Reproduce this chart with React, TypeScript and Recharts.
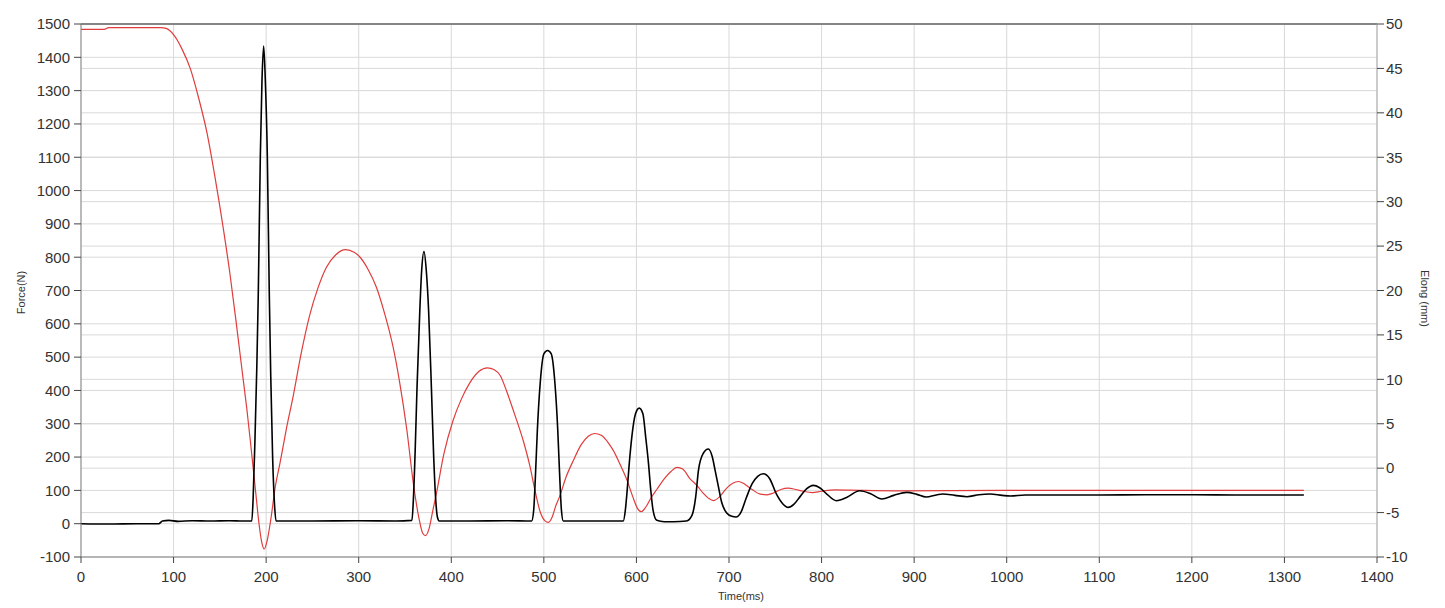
import { LineChart, Line, XAxis, YAxis, CartesianGrid, ReferenceLine } from 'recharts';

// time axis (ms) and tick sets
const timeTicks = [0, 100, 200, 300, 400, 500, 600, 700, 800, 900, 1000, 1100, 1200, 1300, 1400];
const forceTicks = [-100, 0, 100, 200, 300, 400, 500, 600, 700, 800, 900, 1000, 1100, 1200, 1300, 1400, 1500];
const elongTicks = [-10, -5, 0, 5, 10, 15, 20, 25, 30, 35, 40, 45, 50];

// Force (N), black trace
const forceTime = [
    0, 30, 60, 84, 88, 95, 105, 120, 140, 160, 175, 184.5,
    186, 188, 190, 191.5, 193.7, 195.5, 197.3, 199, 201.3, 203.4, 205, 207, 209, 210.7,
    250, 300, 340, 357.5, 359, 361, 363, 366, 368, 370.5, 373, 375.5, 378.5, 381, 383, 385, 387,
    420, 460, 486.8, 489, 491, 493, 496, 500, 504, 508, 512, 515, 517, 519, 521,
    550, 585.8, 588, 590, 592.3, 595, 599, 603, 607, 610, 613, 615.5, 618, 622, 630, 640,
    654, 660, 664, 667, 672, 677.7, 682, 685, 688.5, 692, 697.5, 703, 707.6,
    713, 719, 725, 731, 737, 744, 751, 758, 764, 770, 777, 784, 791, 798, 806, 816,
    828, 841, 853, 865, 878, 892, 903, 913, 925, 931, 944, 957, 970, 982, 995, 1004,
    1020, 1060, 1100, 1150, 1200, 1250, 1321,
];
const forceN = [
    0, -1, 0, 0, 8, 10, 7, 9, 8, 9, 8, 8,
    80, 260, 480, 688, 1100, 1330, 1434, 1340, 1100, 688, 440, 200, 60, 8,
    8, 9, 8, 10, 70, 220, 410, 640, 760, 817, 760, 640, 410, 200, 80, 20, 8,
    8, 9, 8, 40, 150, 282, 420, 510, 520, 510, 420, 282, 150, 40, 8,
    8, 8, 40, 100, 182, 260, 330, 347, 330, 260, 182, 100, 40, 10, 6, 6,
    8, 25, 80, 160, 210, 224, 200, 160, 112, 65, 32, 22, 20,
    35, 80, 120, 142, 150, 135, 90, 60, 49, 58, 82, 105, 115, 108, 88, 69,
    80, 99, 90, 74, 85, 94, 88, 80, 87, 89, 85, 81, 87, 89, 85, 83,
    86, 86, 86, 87, 87, 86, 86,
];

// Elong (mm), red trace
const elongTime = [
    0, 25, 30, 86, 92, 100, 109, 118, 127, 136, 145, 154, 161, 168, 174, 179, 183, 186, 189, 192, 195, 198,
    201, 205, 210, 215, 222, 229, 238, 247, 256, 265, 275, 286, 295, 301, 310, 319, 328, 337, 344, 352,
    359, 365, 369, 372, 376, 380, 384, 392, 402, 411, 420, 430, 439, 446, 453, 460, 468, 478, 485, 490,
    496, 501, 505, 509, 513, 517, 524, 532, 540, 548, 555, 562, 570, 575, 582, 590, 596, 601, 605, 610,
    616, 622, 630, 637, 644, 650, 658, 665, 672, 678, 683, 690, 697, 704, 710, 717, 725, 733, 741, 748,
    756, 764, 772, 780, 790, 800, 815, 840, 880, 1000, 1321,
];
const elongMm = [
    49.4, 49.4, 49.6, 49.6, 49.5, 48.8, 47.2, 45.0, 41.7, 37.8, 32.6, 26.8, 21.8, 16.1, 11.0, 6.8, 3.0, 0.0, -3.0, -6.0, -8.2, -9.1,
    -8.2, -5.8, -2.0, 0.6, 4.5, 8.0, 13.0, 17.2, 20.3, 22.6, 24.0, 24.6, 24.3, 23.8, 22.4, 20.4, 17.4, 13.7, 9.8, 4.3,
    -1.7, -5.6, -7.3, -7.6, -6.8, -4.8, -2.8, 1.6, 5.4, 7.8, 9.6, 10.9, 11.3, 11.1, 10.4, 8.6, 6.2, 3.0, 0.2, -2.3,
    -4.9, -5.9, -6.1, -5.5, -4.2, -3.2, -1.0, 0.9, 2.6, 3.6, 3.9, 3.7, 2.8, 2.0, 0.5, -1.4, -3.2, -4.5, -4.9, -4.4,
    -3.3, -2.4, -1.2, -0.4, 0.1, -0.1, -1.2, -1.9, -2.8, -3.4, -3.65, -3.2, -2.3, -1.7, -1.5, -1.8, -2.4, -2.9, -3.0, -2.8,
    -2.4, -2.25, -2.4, -2.6, -2.75, -2.6, -2.45, -2.5, -2.55, -2.5, -2.5,
];

const forceData = forceTime.map((t, i) => ({ t, force: forceN[i] }));
const elongData = elongTime.map((t, i) => ({ t, elong: elongMm[i] }));

const FONT = '"Liberation Sans", Arial, sans-serif';
const tickStyle = { fontSize: 15, fill: '#333', fontFamily: FONT };

const leftTitle = (p: any) => {
    const vb = p.viewBox;
    const cx = vb.x + 13;
    const cy = vb.y + vb.height / 2 + 2;
    return (
        <text x={cx} y={cy} transform={`rotate(-90 ${cx} ${cy})`} textAnchor="middle" dominantBaseline="central"
            fontSize={11} fill="#333" fontFamily={FONT}>
            Force(N)
        </text>
    );
};

const rightTitle = (p: any) => {
    const vb = p.viewBox;
    const cx = vb.x + 48;
    const cy = vb.y + vb.height / 2 + 8;
    return (
        <text x={cx} y={cy} transform={`rotate(90 ${cx} ${cy})`} textAnchor="middle" dominantBaseline="central"
            fontSize={11} fill="#333" fontFamily={FONT}>
            Elong (mm)
        </text>
    );
};

const bottomTitle = (p: any) => {
    const vb = p.viewBox;
    const cx = vb.x + vb.width / 2 + 12;
    const cy = vb.y + 39;
    return (
        <text x={cx} y={cy} textAnchor="middle" dominantBaseline="central" fontSize={11} fill="#333" fontFamily={FONT}>
            Time(ms)
        </text>
    );
};

export default function App() {
    return (
        <div style={{ width: 1437, height: 600 }}>
            <LineChart width={1437} height={600} margin={{ top: 16, right: 0, left: 0, bottom: 0 }}>
                <CartesianGrid yAxisId="left" stroke="#d9d9d9" />
                <CartesianGrid yAxisId="right" vertical={false} stroke="#d9d9d9" />
                <XAxis
                    type="number"
                    dataKey="t"
                    domain={[0, 1400]}
                    ticks={timeTicks}
                    allowDataOverflow
                    height={51}
                    tick={tickStyle}
                    tickSize={6}
                    tickMargin={8}
                    stroke="#888"
                    tickLine={{ stroke: '#444' }}
                    label={{ content: bottomTitle }}
                />
                <YAxis
                    yAxisId="left"
                    domain={[-100, 1500]}
                    ticks={forceTicks}
                    allowDataOverflow
                    width={73}
                    tick={tickStyle}
                    tickSize={7}
                    tickMargin={4}
                    stroke="#888"
                    tickLine={{ stroke: '#444' }}
                    label={{ content: leftTitle }}
                />
                <YAxis
                    yAxisId="right"
                    orientation="right"
                    domain={[-10, 50]}
                    ticks={elongTicks}
                    allowDataOverflow
                    width={68}
                    tick={tickStyle}
                    tickSize={7}
                    tickMargin={2}
                    stroke="#aaa"
                    tickLine={{ stroke: '#444' }}
                    label={{ content: rightTitle }}
                />
                <ReferenceLine yAxisId="left" y={1500} stroke="#666" strokeWidth={1.5} />
                <Line
                    yAxisId="right"
                    data={elongData}
                    dataKey="elong"
                    type="monotone"
                    stroke="#e03c3c"
                    strokeWidth={1.2}
                    dot={false}
                    isAnimationActive={false}
                />
                <Line
                    yAxisId="left"
                    data={forceData}
                    dataKey="force"
                    type="monotone"
                    stroke="#000"
                    strokeWidth={1.6}
                    dot={false}
                    isAnimationActive={false}
                />
            </LineChart>
        </div>
    );
}
